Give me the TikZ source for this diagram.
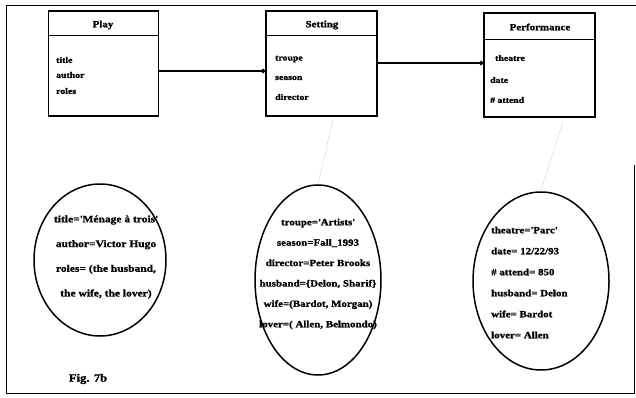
\documentclass[tikz,border=0pt]{standalone}
\usepackage{fontspec}
\setmainfont{Liberation Serif}[FakeStretch=1.15, BoldFeatures={FakeBold=1.2}]
\usetikzlibrary{shapes.geometric,arrows.meta}

\newcommand{\sq}{\textquotesingle}

\tikzset{
  classbox/.style={draw, line width=1.4pt, minimum width=110pt, minimum height=105pt, inner sep=0pt},
  classname/.style={font=\fontsize{9.5}{11}\selectfont\bfseries, inner sep=0pt},
  attr/.style={font=\fontsize{8.5}{10}\selectfont\bfseries, anchor=west, inner sep=0pt},
  instance/.style={draw, ellipse, line width=1.5pt, inner sep=0pt},
  assoc/.style={line width=1.1pt, -{Circle[length=4.5pt]}},
  instof/.style={densely dotted, line width=0.5pt, black!35},
}

\begin{document}
\begin{tikzpicture}[x=1pt, y=-1pt]
  \useasboundingbox (0,0) rectangle (636,398);

  % outer frame (right side only partly drawn)
  \draw[line width=0.9pt] (634,165) -- (634,393) -- (6,393) -- (6,5) -- (636,5);

  % class boxes
  \node[classbox] (play) at (103.5,63.5) {};
  \node[classbox, minimum width=111pt] (setting) at (321.5,63.5) {};
  \node[classbox, minimum width=111pt, minimum height=104pt] (perf) at (539.5,65) {};

  \draw[line width=1.2pt] ([yshift=-25pt]play.north west) -- ([yshift=-25pt]play.north east);
  \draw[line width=1.2pt] ([yshift=-25pt]setting.north west) -- ([yshift=-25pt]setting.north east);
  \draw[line width=1.2pt] ([yshift=-27pt]perf.north west) -- ([yshift=-27pt]perf.north east);

  \node[classname] (playname) at (103,25) {Play};
  \node[classname] (settingname) at (322,25) {Setting};
  \node[classname] (perfname) at (540,27) {Performance};

  \node[attr] (a1) at (56,60) {title};
  \node[attr] (a2) at (56,75) {author};
  \node[attr] (a3) at (56,91) {roles};

  \node[attr] (b1) at (275,59) {troupe};
  \node[attr] (b2) at (275,78) {season};
  \node[attr] (b3) at (275,97) {director};

  \node[attr] (c1) at (495,58) {theatre};
  \node[attr] (c2) at (490,80) {date};
  \node[attr] (c3) at (490,100) {\# attend};

  % associations
  \coordinate (p1) at (play.east |- 0,71);
  \coordinate (s1) at (setting.west |- 0,71);
  \coordinate (s2) at (setting.east |- 0,63);
  \coordinate (f2) at (perf.west |- 0,63);
  \draw[assoc] (p1) -- (s1);
  \draw[assoc] (s2) -- (f2);

  % instances
  \node[instance, minimum width=132pt, minimum height=152pt] (e1) at (100,260) {};
  \node[instance, minimum width=126pt, minimum height=190pt] (e2) at (318,280) {};
  \node[instance, minimum width=136pt, minimum height=178pt] (e3) at (541,281) {};

  \node[font=\fontsize{10}{24.7}\selectfont\bfseries, inner sep=0pt, align=center] (v1) at (106,257)
    {title=\sq Ménage à trois\sq\\author=Victor Hugo\\roles= (the husband,\\the wife, the lover)};
  \node[font=\fontsize{9.5}{20.4}\selectfont\bfseries, inner sep=0pt, align=center] (v2) at (318,274)
    {troupe=\sq Artists\sq\\season=Fall\_1993\\director=Peter Brooks\\husband=\{Delon, Sharif\}\\wife=(Bardot, Morgan)\\lover=( Allen, Belmondo)};
  \node[font=\fontsize{9.5}{21}\selectfont\bfseries, inner sep=0pt, align=left, anchor=west] (v3) at (491,282.5)
    {theatre=\sq Parc\sq\\date= 12/22/93\\\# attend= 850\\husband= Delon\\wife= Bardot\\lover= Allen};

  % instance-of links
  \coordinate (d1) at (333,120);
  \coordinate (d2) at (563,122);
  \draw[instof] (d1) -- (e2.north);
  \draw[instof] (d2) -- (e3.north);

  \node[font=\fontsize{11}{13}\selectfont\bfseries, inner sep=0pt] (fig) at (88,379) {Fig. 7b};
\end{tikzpicture}
\end{document}
